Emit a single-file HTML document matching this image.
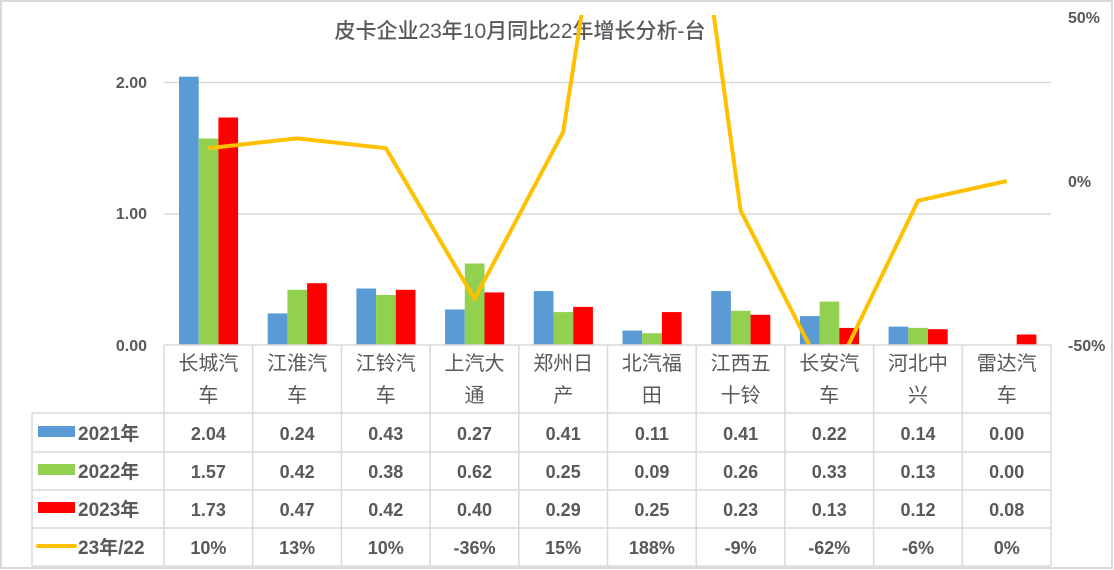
<!DOCTYPE html>
<html><head><meta charset="utf-8"><style>
body{margin:0;background:#fff}
svg{display:block;font-family:"Liberation Sans","Noto Sans CJK SC",sans-serif}
</style></head><body>
<svg width="1114" height="570" xmlns="http://www.w3.org/2000/svg">
<rect x="1" y="1" width="1111" height="567" fill="#fff" stroke="#d9d9d9" stroke-width="2"/>
<text x="520" y="38" font-size="21" fill="#595959" text-anchor="middle" font-weight="500">皮卡企业23年10月同比22年增长分析-台</text>
<g stroke="#d9d9d9" stroke-width="1.5">
<line x1="164" y1="82.5" x2="1051" y2="82.5"/>
<line x1="164" y1="214" x2="1051" y2="214"/>
</g>
<g font-size="16" fill="#595959" text-anchor="end" font-weight="bold">
<text x="147" y="88">2.00</text><text x="147" y="219">1.00</text><text x="147" y="351">0.00</text>
</g>
<g font-size="16" fill="#595959" font-weight="bold">
<text x="1068" y="23">50%</text><text x="1068" y="187">0%</text><text x="1068" y="351">-50%</text>
</g>
<g fill="#5b9bd5">
<rect x="179" y="76.7" width="19.7" height="268.3"/>
<rect x="267.7" y="313.4" width="19.7" height="31.6"/>
<rect x="356.4" y="288.5" width="19.7" height="56.5"/>
<rect x="445.1" y="309.5" width="19.7" height="35.5"/>
<rect x="533.8" y="291.1" width="19.7" height="53.9"/>
<rect x="622.5" y="330.5" width="19.7" height="14.5"/>
<rect x="711.2" y="291.1" width="19.7" height="53.9"/>
<rect x="799.9" y="316.1" width="19.7" height="28.9"/>
<rect x="888.6" y="326.6" width="19.7" height="18.4"/>
</g>
<g fill="#92d050">
<rect x="198.7" y="138.5" width="19.7" height="206.5"/>
<rect x="287.4" y="289.8" width="19.7" height="55.2"/>
<rect x="376.1" y="295" width="19.7" height="50"/>
<rect x="464.8" y="263.5" width="19.7" height="81.5"/>
<rect x="553.5" y="312.1" width="19.7" height="32.9"/>
<rect x="642.2" y="333.2" width="19.7" height="11.8"/>
<rect x="730.9" y="310.8" width="19.7" height="34.2"/>
<rect x="819.6" y="301.6" width="19.7" height="43.4"/>
<rect x="908.3" y="327.9" width="19.7" height="17.1"/>
</g>
<g fill="#ff0000">
<rect x="218.4" y="117.5" width="19.7" height="227.5"/>
<rect x="307.1" y="283.2" width="19.7" height="61.8"/>
<rect x="395.8" y="289.8" width="19.7" height="55.2"/>
<rect x="484.5" y="292.4" width="19.7" height="52.6"/>
<rect x="573.2" y="306.9" width="19.7" height="38.1"/>
<rect x="661.9" y="312.1" width="19.7" height="32.9"/>
<rect x="750.6" y="314.8" width="19.7" height="30.2"/>
<rect x="839.3" y="327.9" width="19.7" height="17.1"/>
<rect x="928" y="329.2" width="19.7" height="15.8"/>
<rect x="1016.7" y="334.5" width="19.7" height="10.5"/>
</g>
<defs><clipPath id="c"><rect x="164" y="15" width="887" height="330"/></clipPath></defs>
<polyline clip-path="url(#c)" fill="none" stroke="#ffc000" stroke-width="4" stroke-linejoin="round"
points="208.4,148.2 297.1,138.4 385.8,148.2 474.5,299 563.2,131.8 651.9,-435.6 740.6,210.5 829.3,384.4 918,200.7 1006.7,181"/>
<g stroke="#d9d9d9" stroke-width="1.5" fill="none">
<line x1="164" y1="345" x2="1051" y2="345"/>
<line x1="32" y1="413" x2="1051" y2="413"/>
<line x1="32" y1="452" x2="1051" y2="452"/>
<line x1="32" y1="490" x2="1051" y2="490"/>
<line x1="32" y1="528" x2="1051" y2="528"/>
<line x1="32" y1="566" x2="1051" y2="566"/>
<line x1="32" y1="413" x2="32" y2="566"/>
<line x1="164" y1="345" x2="164" y2="566"/><line x1="252.7" y1="345" x2="252.7" y2="566"/>
<line x1="341.4" y1="345" x2="341.4" y2="566"/><line x1="430.1" y1="345" x2="430.1" y2="566"/>
<line x1="518.8" y1="345" x2="518.8" y2="566"/><line x1="607.5" y1="345" x2="607.5" y2="566"/>
<line x1="696.2" y1="345" x2="696.2" y2="566"/><line x1="784.9" y1="345" x2="784.9" y2="566"/>
<line x1="873.6" y1="345" x2="873.6" y2="566"/><line x1="962.3" y1="345" x2="962.3" y2="566"/>
<line x1="1051" y1="345" x2="1051" y2="566"/>
</g>
<g font-size="20" fill="#595959" text-anchor="middle">
<text x="208.4" y="370">长城汽</text><text x="208.4" y="402">车</text>
<text x="297.1" y="370">江淮汽</text><text x="297.1" y="402">车</text>
<text x="385.8" y="370">江铃汽</text><text x="385.8" y="402">车</text>
<text x="474.5" y="370">上汽大</text><text x="474.5" y="402">通</text>
<text x="563.2" y="370">郑州日</text><text x="563.2" y="402">产</text>
<text x="651.9" y="370">北汽福</text><text x="651.9" y="402">田</text>
<text x="740.6" y="370">江西五</text><text x="740.6" y="402">十铃</text>
<text x="829.3" y="370">长安汽</text><text x="829.3" y="402">车</text>
<text x="918" y="370">河北中</text><text x="918" y="402">兴</text>
<text x="1006.7" y="370">雷达汽</text><text x="1006.7" y="402">车</text>
</g>
<rect x="38" y="426" width="37" height="11" fill="#5b9bd5"/>
<rect x="38" y="464" width="37" height="11" fill="#92d050"/>
<rect x="38" y="502" width="37" height="11" fill="#ff0000"/>
<line x1="38" y1="546" x2="75" y2="546" stroke="#ffc000" stroke-width="4" stroke-linecap="round"/>
<g font-size="19" fill="#595959" font-weight="bold">
<text x="78" y="440">2021年</text><text x="78" y="478">2022年</text>
<text x="78" y="516">2023年</text><text x="78" y="554">23年/22</text>
</g>
<g font-size="18" fill="#595959" text-anchor="middle" font-weight="bold">
<text x="208.4" y="440">2.04</text><text x="297.1" y="440">0.24</text><text x="385.8" y="440">0.43</text><text x="474.5" y="440">0.27</text><text x="563.2" y="440">0.41</text><text x="651.9" y="440">0.11</text><text x="740.6" y="440">0.41</text><text x="829.3" y="440">0.22</text><text x="918" y="440">0.14</text><text x="1006.7" y="440">0.00</text>
<text x="208.4" y="478">1.57</text><text x="297.1" y="478">0.42</text><text x="385.8" y="478">0.38</text><text x="474.5" y="478">0.62</text><text x="563.2" y="478">0.25</text><text x="651.9" y="478">0.09</text><text x="740.6" y="478">0.26</text><text x="829.3" y="478">0.33</text><text x="918" y="478">0.13</text><text x="1006.7" y="478">0.00</text>
<text x="208.4" y="516">1.73</text><text x="297.1" y="516">0.47</text><text x="385.8" y="516">0.42</text><text x="474.5" y="516">0.40</text><text x="563.2" y="516">0.29</text><text x="651.9" y="516">0.25</text><text x="740.6" y="516">0.23</text><text x="829.3" y="516">0.13</text><text x="918" y="516">0.12</text><text x="1006.7" y="516">0.08</text>
<text x="208.4" y="554">10%</text><text x="297.1" y="554">13%</text><text x="385.8" y="554">10%</text><text x="474.5" y="554">-36%</text><text x="563.2" y="554">15%</text><text x="651.9" y="554">188%</text><text x="740.6" y="554">-9%</text><text x="829.3" y="554">-62%</text><text x="918" y="554">-6%</text><text x="1006.7" y="554">0%</text>
</g>
</svg>
</body></html>
